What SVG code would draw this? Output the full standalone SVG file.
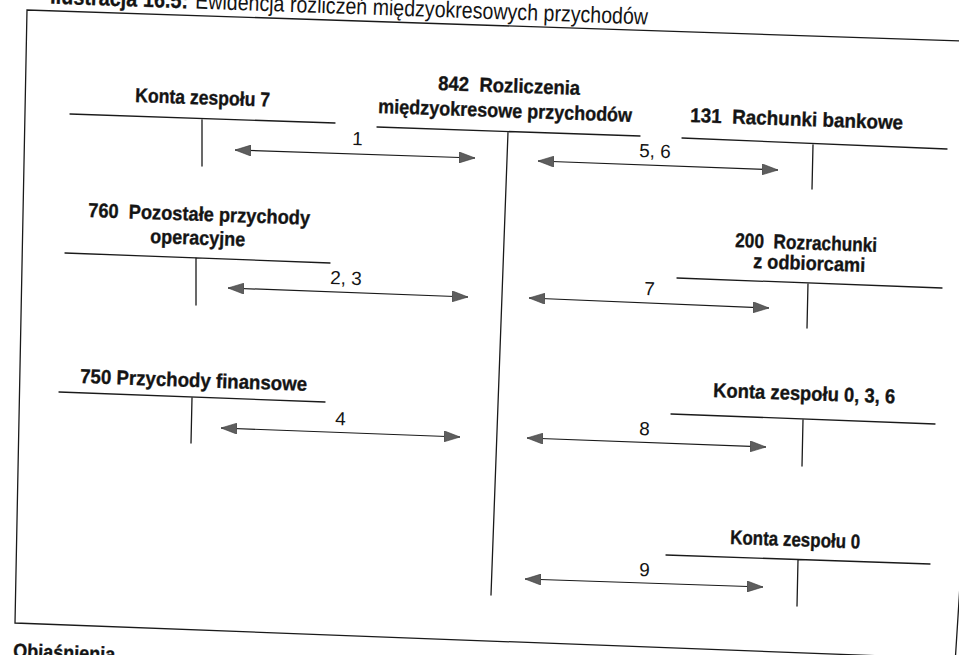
<svg xmlns="http://www.w3.org/2000/svg" width="959" height="655" viewBox="0 0 959 655">
  <style>
    .hdr { font-family: "Liberation Sans Narrow", "Liberation Sans", Arial, sans-serif; font-weight: bold; font-size: 20px; fill: #141414; stroke: #141414; stroke-width: 0.35; }
    .num { font-family: "Liberation Sans Narrow", "Liberation Sans", Arial, sans-serif; font-size: 19px; fill: #141414; }
    .ttl { font-family: "Liberation Sans Narrow", "Liberation Sans", Arial, sans-serif; font-size: 23px; fill: #141414; }
    .rule { stroke: #1a1a1a; stroke-width: 1.3; fill: none; stroke-linecap: round; }
    .flow { stroke: #1a1a1a; stroke-width: 1.2; fill: none; marker-start: url(#head); marker-end: url(#head); }
  </style>
  <defs>
    <marker id="head" markerUnits="userSpaceOnUse" markerWidth="17" markerHeight="11" refX="16" refY="5.5" orient="auto-start-reverse">
      <path d="M0,0 L16,5.5 L0,11 Z" fill="#5e5e5e" stroke="#3a3a3a" stroke-width="0.6"/>
    </marker>
  </defs>
  <rect width="959" height="655" fill="#ffffff"/>

  <!-- caption above the frame -->
  <g id="title">
    <text class="ttl" font-weight="bold" stroke="#141414" stroke-width="0.3" transform="translate(50,3.6) rotate(2)" textLength="138" lengthAdjust="spacingAndGlyphs">Ilustracja 16.5:</text>
    <text class="ttl" transform="translate(195,8.6) rotate(2)" textLength="453" lengthAdjust="spacingAndGlyphs">Ewidencja rozliczeń międzyokresowych przychodów</text>
  </g>

  <!-- outer frame -->
  <g id="frame" class="rule">
    <path d="M963,41 L27,10 L15,623 L963,659"/>
    <path d="M960,585 L955.5,656"/>
  </g>

  <!-- T-accounts -->
  <g id="konta-7">
    <text class="hdr" transform="translate(135,102) rotate(2)" textLength="135" lengthAdjust="spacingAndGlyphs">Konta zespołu 7</text>
    <path class="rule" d="M70,114 L335,123 M202,120 L202,166"/>
  </g>

  <g id="konto-842">
    <text class="hdr" xml:space="preserve" transform="translate(438,90) rotate(2)" textLength="142" lengthAdjust="spacingAndGlyphs">842  Rozliczenia</text>
    <text class="hdr" transform="translate(378,113) rotate(2)" textLength="254" lengthAdjust="spacingAndGlyphs">międzyokresowe przychodów</text>
    <path class="rule" d="M377,127 L640,136 M508,132 L491,595"/>
  </g>

  <g id="konto-131">
    <text class="hdr" xml:space="preserve" transform="translate(690,122) rotate(2)" textLength="213" lengthAdjust="spacingAndGlyphs">131  Rachunki bankowe</text>
    <path class="rule" d="M682,138 L947,149 M813,145 L812,189"/>
  </g>

  <g id="konto-760">
    <text class="hdr" xml:space="preserve" transform="translate(88,217) rotate(2)" textLength="222" lengthAdjust="spacingAndGlyphs">760  Pozostałe przychody</text>
    <text class="hdr" transform="translate(150,243) rotate(2)" textLength="95" lengthAdjust="spacingAndGlyphs">operacyjne</text>
    <path class="rule" d="M65,253 L330,263 M196,258 L196,305"/>
  </g>

  <g id="konto-200">
    <text class="hdr" xml:space="preserve" transform="translate(735,247) rotate(2)" textLength="142" lengthAdjust="spacingAndGlyphs">200  Rozrachunki</text>
    <text class="hdr" transform="translate(753,268) rotate(2)" textLength="112" lengthAdjust="spacingAndGlyphs">z odbiorcami</text>
    <path class="rule" d="M677,278 L942,288 M808,283 L807,328"/>
  </g>

  <g id="konto-750">
    <text class="hdr" transform="translate(80,383) rotate(2)" textLength="227" lengthAdjust="spacingAndGlyphs">750 Przychody finansowe</text>
    <path class="rule" d="M59,392 L325,402 M192,398 L191,443"/>
  </g>

  <g id="konta-0-3-6">
    <text class="hdr" transform="translate(713,397) rotate(2)" textLength="182" lengthAdjust="spacingAndGlyphs">Konta zespołu 0, 3, 6</text>
    <path class="rule" d="M671,414 L935,424 M803,420 L802,466"/>
  </g>

  <g id="konta-0">
    <text class="hdr" transform="translate(730,544) rotate(2)" textLength="130" lengthAdjust="spacingAndGlyphs">Konta zespołu 0</text>
    <path class="rule" d="M666,555 L930,564 M798,560 L797,606"/>
  </g>

  <!-- postings between accounts -->
  <g id="connectors">
    <line class="flow" x1="235" y1="150" x2="475" y2="158"/>
    <text class="num" transform="translate(352,145) rotate(2)">1</text>

    <line class="flow" x1="538" y1="161" x2="778" y2="170"/>
    <text class="num" transform="translate(639,157) rotate(2)">5, 6</text>

    <line class="flow" x1="228" y1="288" x2="468" y2="297"/>
    <text class="num" transform="translate(330,284) rotate(2)">2, 3</text>

    <line class="flow" x1="529" y1="298" x2="769" y2="308"/>
    <text class="num" transform="translate(644,295) rotate(2)">7</text>

    <line class="flow" x1="221" y1="428" x2="460" y2="437"/>
    <text class="num" transform="translate(335,425) rotate(2)">4</text>

    <line class="flow" x1="527" y1="438" x2="766" y2="447"/>
    <text class="num" transform="translate(639,435) rotate(2)">8</text>

    <line class="flow" x1="525" y1="579" x2="763" y2="587"/>
    <text class="num" transform="translate(639,576) rotate(2)">9</text>
  </g>

  <!-- heading of the notes below the frame -->
  <g id="notes">
    <text class="hdr" transform="translate(13,657.5) rotate(2)" textLength="102" lengthAdjust="spacingAndGlyphs">Objaśnienia</text>
  </g>
</svg>
